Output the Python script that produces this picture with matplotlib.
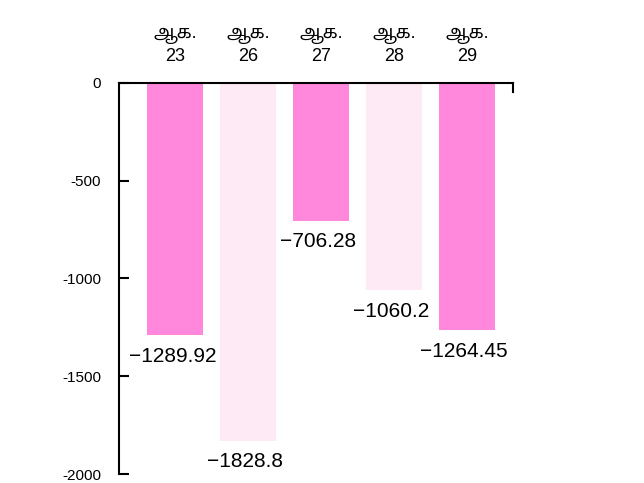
import matplotlib
matplotlib.use("Agg")
import matplotlib.pyplot as plt

# data
dates = ["ஆக.\n23", "ஆக.\n26", "ஆக.\n27", "ஆக.\n28", "ஆக.\n29"]
values = [-1289.92, -1828.8, -706.28, -1060.2, -1264.45]
colors = ["#ff88dd", "#fdeaf4", "#ff88dd", "#fdeaf4", "#ff88dd"]
yticks = [0, -500, -1000, -1500, -2000]

plt.rcParams['font.family'] = ['Liberation Sans', 'Noto Sans Tamil']

fig = plt.figure(figsize=(6.44, 4.83), dpi=100)
ax = fig.add_axes([0.1848, 0.0186, 0.6118, 0.8096])

x = list(range(len(values)))
bars = ax.bar(x, values, width=0.77, color=colors)

# value labels under each bar end
for xi, v in zip(x, values):
    ax.annotate("\u2212" + str(abs(v)), (xi, v), xytext=(-2, -15), textcoords="offset points",
                ha="center", va="center", fontsize=15)

ax.set_xlim(-0.77, 4.63)
ax.set_ylim(-2000, 0)

ax.xaxis.tick_top()
ax.set_xticks(x)
ax.set_xticklabels(dates, fontsize=13, linespacing=1.3)
ax.tick_params(axis="x", length=0, pad=13)

ax.set_yticks(yticks)
ax.set_yticklabels([str(t) for t in yticks], fontsize=11)
ax.tick_params(axis="y", direction="in", length=7, width=1.5, pad=13)

ax.spines["bottom"].set_visible(False)
ax.spines["right"].set_bounds(-45, 0)
for s in ["left", "top", "right"]:
    ax.spines[s].set_linewidth(1.5)

fig.savefig("out.png")
